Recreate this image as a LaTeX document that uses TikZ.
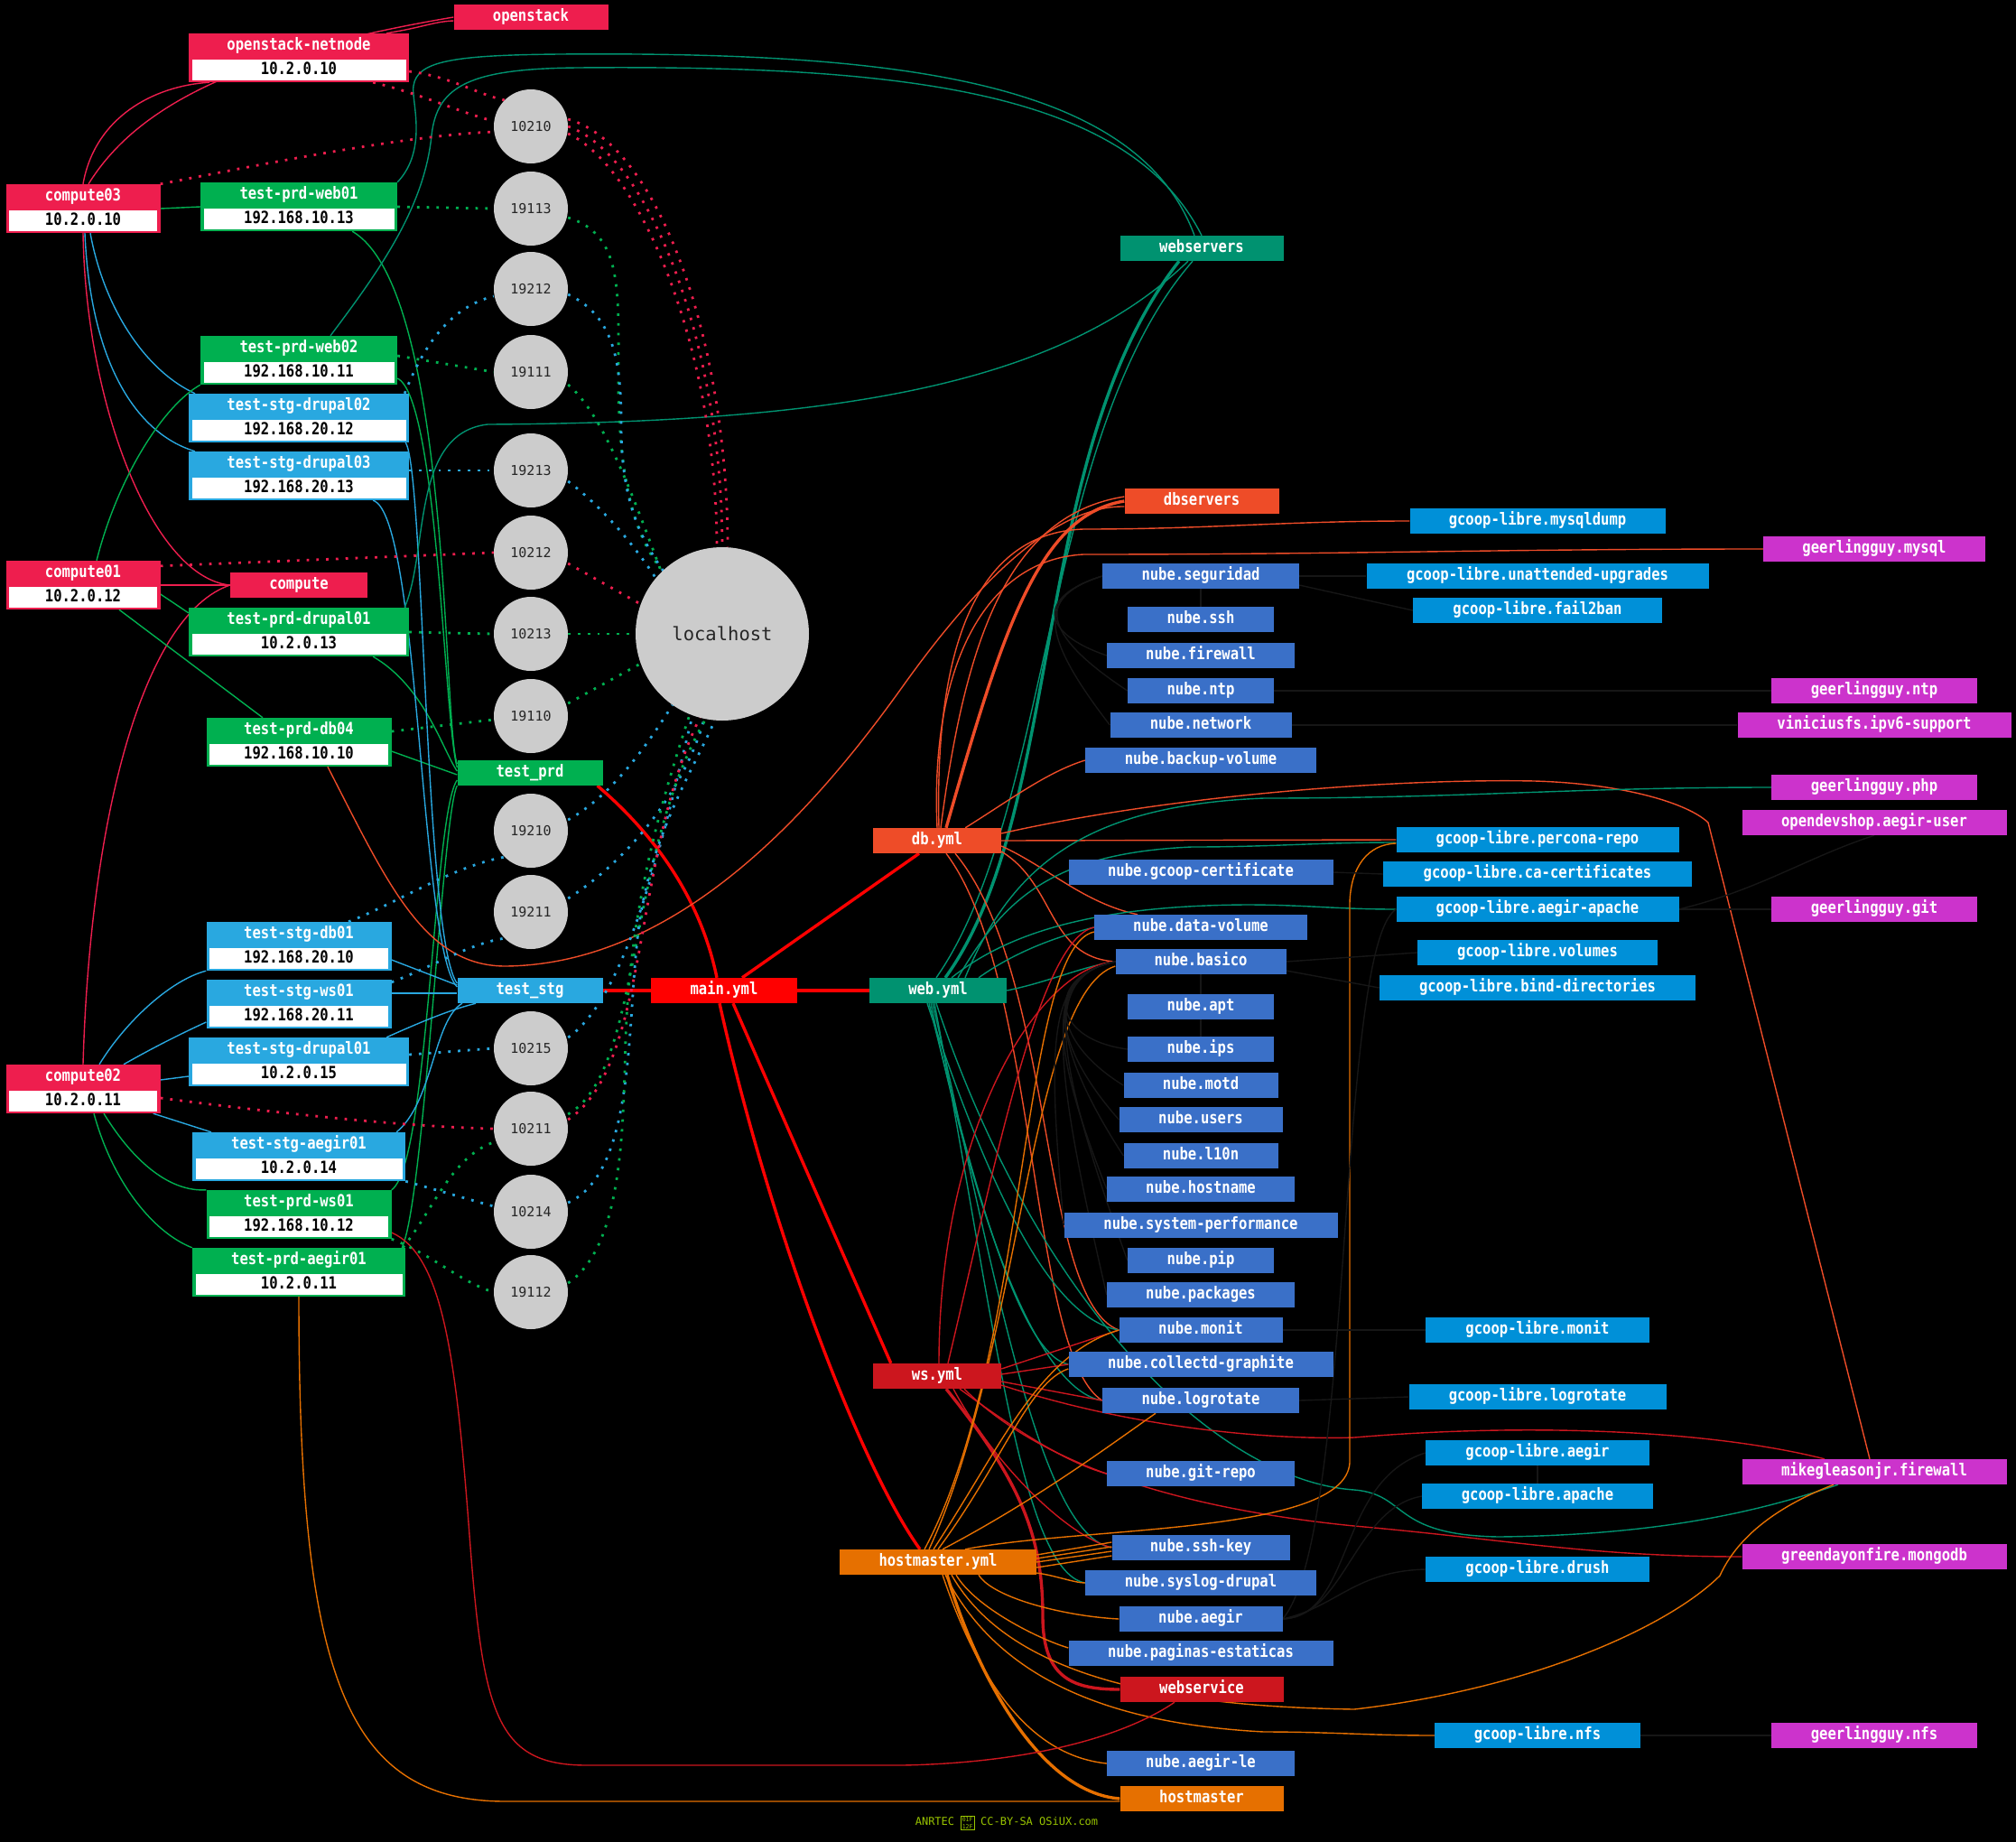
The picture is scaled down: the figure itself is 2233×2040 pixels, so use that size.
\documentclass[tikz,border=0pt]{standalone}
\usepackage{fontspec}
\usepackage{xcolor}
\usepackage{tikz}
\usetikzlibrary{positioning}

\newfontfamily\boxfont{DejaVu Sans Mono}[FakeStretch=0.84]
\newfontfamily\portfont{DejaVu Sans Mono}
\setlength{\fboxsep}{1pt}

\definecolor{osred}{HTML}{EE1E4E}
\definecolor{prdgreen}{HTML}{00B050}
\definecolor{stgblue}{HTML}{29A8E0}
\definecolor{mainred}{HTML}{FF0000}
\definecolor{webteal}{HTML}{009270}
\definecolor{dborange}{HTML}{EE4C28}
\definecolor{wsred}{HTML}{CC161E}
\definecolor{hmorange}{HTML}{E67000}
\definecolor{nubeblue}{HTML}{3A70C8}
\definecolor{gcoopblue}{HTML}{0090D8}
\definecolor{ggpurple}{HTML}{CC33CC}
\definecolor{portgray}{HTML}{CCCCCC}
\definecolor{darkline}{HTML}{161616}
\definecolor{footgreen}{HTML}{99C400}

\pgfdeclarelayer{bg}
\pgfdeclarelayer{edges}
\pgfsetlayers{bg,edges,main}

\tikzset{
  box/.style={rectangle, inner sep=0pt, minimum height=28, text=white,
    font={\boxfont\bfseries\fontsize{18.5}{18.5}\selectfont}, text height=12pt, text depth=3pt},
  hostbox/.style={rectangle, inner sep=0pt, minimum height=54},
  hosttitle/.style={inner sep=0pt, text=white,
    font={\boxfont\bfseries\fontsize{18.5}{18.5}\selectfont}, text height=12pt, text depth=3pt},
  hostip/.style={rectangle, fill=white, inner sep=0pt, minimum height=23, text=black,
    font={\boxfont\bfseries\fontsize{18.5}{18.5}\selectfont}, text height=12pt, text depth=3pt},
  port/.style={circle, fill=portgray, inner sep=0pt, minimum size=82, text=black!85,
    font={\portfont\fontsize{15}{15}\selectfont}},
  hub/.style={circle, fill=portgray, inner sep=0pt, minimum size=192, text=black!85,
    font={\portfont\fontsize{20.5}{20.5}\selectfont}},
  footer/.style={text=footgreen, inner sep=0pt, font={\portfont\fontsize{12}{12}\selectfont}},
  osln/.style={draw=osred, line width=1.4pt},
  prdln/.style={draw=prdgreen, line width=1.4pt},
  stgln/.style={draw=stgblue, line width=1.4pt},
  mainln/.style={draw=mainred, line width=3.4pt},
  webln/.style={draw=webteal, line width=1.4pt},
  dbln/.style={draw=dborange, line width=1.4pt},
  wsln/.style={draw=wsred, line width=1.4pt},
  hmln/.style={draw=hmorange, line width=1.4pt},
  darkln/.style={draw=darkline, line width=1.4pt},
  fat/.style={line width=3.4pt},
  portln/.style={line width=2.8pt, dash pattern=on 2.8pt off 8pt}
}

% host record: name, x, y, width, colour, hostname, ip
\newcommand{\hostnode}[7]{%
  \node[hostbox, fill=#5, minimum width=#4] (#1) at (#2,#3) {};
  \node[hosttitle] (#1t) at ([yshift=13]#1.center) {#6};
  \node[hostip, minimum width=#4-7] (#1ip) at ([yshift=-13.5]#1.center) {#7};
}

\begin{document}
\begin{tikzpicture}[x=1pt, y=1pt]
  \useasboundingbox (0,0) rectangle (2233,-2040);
  \begin{pgfonlayer}{bg}
    \fill[black] (0,0) rectangle (2233,-2040);
  \end{pgfonlayer}

  % inventory hosts
  \hostnode{netnode}{331}{-64}{244}{osred}{openstack-netnode}{10.2.0.10}
  \hostnode{cmp03}{92}{-231}{171}{osred}{compute03}{10.2.0.10}
  \hostnode{cmp01}{92}{-648}{171}{osred}{compute01}{10.2.0.12}
  \hostnode{cmp02}{92}{-1206}{171}{osred}{compute02}{10.2.0.11}
  \hostnode{prdweb01}{331}{-229}{218}{prdgreen}{test-prd-web01}{192.168.10.13}
  \hostnode{prdweb02}{331}{-399}{218}{prdgreen}{test-prd-web02}{192.168.10.11}
  \hostnode{stgdrp02}{331}{-463}{244}{stgblue}{test-stg-drupal02}{192.168.20.12}
  \hostnode{stgdrp03}{331}{-527}{244}{stgblue}{test-stg-drupal03}{192.168.20.13}
  \hostnode{prddrp01}{331}{-700}{244}{prdgreen}{test-prd-drupal01}{10.2.0.13}
  \hostnode{prddb04}{331}{-822}{205}{prdgreen}{test-prd-db04}{192.168.10.10}
  \hostnode{stgdb01}{331}{-1048}{205}{stgblue}{test-stg-db01}{192.168.20.10}
  \hostnode{stgws01}{331}{-1112}{205}{stgblue}{test-stg-ws01}{192.168.20.11}
  \hostnode{stgdrp01}{331}{-1176}{244}{stgblue}{test-stg-drupal01}{10.2.0.15}
  \hostnode{stgaegir01}{331}{-1281}{236}{stgblue}{test-stg-aegir01}{10.2.0.14}
  \hostnode{prdws01}{331}{-1345}{205}{prdgreen}{test-prd-ws01}{192.168.10.12}
  \hostnode{prdaegir01}{331}{-1409}{236}{prdgreen}{test-prd-aegir01}{10.2.0.11}

  % groups and playbooks
  \node[box, fill=osred, minimum width=171] (openstack) at (588,-19) {openstack};
  \node[box, fill=osred, minimum width=152] (compute) at (331,-648) {compute};
  \node[box, fill=prdgreen, minimum width=161] (testprd) at (587,-856) {test\_prd};
  \node[box, fill=stgblue, minimum width=161] (teststg) at (587,-1097) {test\_stg};
  \node[box, fill=mainred, minimum width=162] (mainyml) at (802,-1097) {main.yml};
  \node[box, fill=webteal, minimum width=152] (webyml) at (1039,-1097) {web.yml};
  \node[box, fill=dborange, minimum width=142] (dbyml) at (1038,-931) {db.yml};
  \node[box, fill=wsred, minimum width=142] (wsyml) at (1038,-1524) {ws.yml};
  \node[box, fill=hmorange, minimum width=218] (hmyml) at (1039,-1730) {hostmaster.yml};
  \node[box, fill=webteal, minimum width=181] (webservers) at (1331,-275) {webservers};
  \node[box, fill=dborange, minimum width=171] (dbservers) at (1331,-555) {dbservers};
  \node[box, fill=wsred, minimum width=181] (webservice) at (1331,-1871) {webservice};
  \node[box, fill=hmorange, minimum width=181] (hostmaster) at (1331,-1992) {hostmaster};

  % ssh tunnels
  \foreach \p/\y in {10210/140, 19113/231, 19212/320, 19111/412, 19213/521,
      10212/612, 10213/702, 19110/793, 19210/920, 19211/1010, 10215/1161,
      10211/1250, 10214/1342, 19112/1431}
    \node[port] (p\p) at (588,-\y) {\p};
  \node[hub] (localhost) at (800,-702) {localhost};

  % roles
  \foreach \n/\lbl/\y/\w in {nseguridad/nube.seguridad/638/218, nssh/nube.ssh/686/162,
      nfirewall/nube.firewall/726/208, nntp/nube.ntp/765/162,
      nnetwork/nube.network/803/201, nbackup/nube.backup-volume/842/256,
      ngcoopcert/nube.gcoop-certificate/966/293, ndatavol/nube.data-volume/1027/236,
      nbasico/nube.basico/1065/189, napt/nube.apt/1115/162, nips/nube.ips/1162/162,
      nmotd/nube.motd/1202/171, nusers/nube.users/1240/181, nlten/nube.l10n/1280/171,
      nhostname/nube.hostname/1317/208, nsysperf/nube.system-performance/1357/303,
      npip/nube.pip/1396/162, npackages/nube.packages/1434/208,
      nmonit/nube.monit/1473/181, ncollectd/nube.collectd-graphite/1511/293,
      nlogrotate/nube.logrotate/1551/218, ngitrepo/nube.git-repo/1632/208,
      nsshkey/nube.ssh-key/1714/197, nsyslog/nube.syslog-drupal/1753/256,
      naegir/nube.aegir/1793/181, npaginas/nube.paginas-estaticas/1831/293,
      naegirle/nube.aegir-le/1953/208}
    \node[box, fill=nubeblue, minimum width=\w] (\n) at (1330,-\y) {\lbl};

  \foreach \n/\lbl/\y/\w in {gmysqldump/gcoop-libre.mysqldump/577/283,
      gunattended/gcoop-libre.unattended-upgrades/638/379,
      gfailban/gcoop-libre.fail2ban/676/276, gpercona/gcoop-libre.percona-repo/930/313,
      gcacert/gcoop-libre.ca-certificates/968/342,
      gaegirapache/gcoop-libre.aegir-apache/1007/313,
      gvolumes/gcoop-libre.volumes/1055/266, gbind/gcoop-libre.bind-directories/1094/350,
      gmonit/gcoop-libre.monit/1473/248, glogrotate/gcoop-libre.logrotate/1547/285,
      gaegir/gcoop-libre.aegir/1609/248, gapache/gcoop-libre.apache/1657/256,
      gdrush/gcoop-libre.drush/1738/248, gnfs/gcoop-libre.nfs/1922/228}
    \node[box, fill=gcoopblue, minimum width=\w] (\n) at (1703,-\y) {\lbl};

  \foreach \n/\lbl/\y/\w in {ggmysql/geerlingguy.mysql/608/246,
      ggntp/geerlingguy.ntp/765/228, ggipv/viniciusfs.ipv6-support/803/303,
      ggphp/geerlingguy.php/872/228, ggaegiruser/opendevshop.aegir-user/911/293,
      gggit/geerlingguy.git/1007/228, ggfirewall/mikegleasonjr.firewall/1630/293,
      ggmongodb/greendayonfire.mongodb/1724/293, ggnfs/geerlingguy.nfs/1922/228}
    \node[box, fill=ggpurple, minimum width=\w] (\n) at (2076,-\y) {\lbl};

  \node[footer] (credit) at (1115,-2019) {ANRTEC \raisebox{-4pt}{\fbox{\fontsize{6.5}{6.5}\selectfont\shortstack{01F\\12F}}} CC-BY-SA OSiUX.com};

  \begin{pgfonlayer}{edges}
  % openstack / compute
  \draw[osln] (cmp03.north) .. controls (105,-130) and (170,-95) .. ([xshift=-99]netnode.south);
  \draw[osln] ([xshift=6]cmp03.north) .. controls (150,-120) and (260,-60) .. (openstack.west);
  \draw[osln] ([xshift=-25]netnode.north east) .. controls (470,-30) and (480,-24) .. ([yshift=-4]openstack.west);
  \draw[osln] (cmp03.south) .. controls (95,-450) and (170,-640) .. (compute.west);
  \draw[osln] (cmp01.east) -- (compute.west);
  \draw[osln] (cmp02.north) .. controls (100,-900) and (160,-680) .. (compute.west);

  % vms on compute nodes
  \draw[prdln] (cmp03.east) -- (prdweb01.west);
  \draw[stgln] ([xshift=8]cmp03.south) .. controls (115,-340) and (160,-410) .. ([xshift=-115]stgdrp02.north);
  \draw[stgln] ([xshift=2]cmp03.south) .. controls (100,-400) and (150,-480) .. ([xshift=-115]stgdrp03.north);
  \draw[prdln] ([xshift=15]cmp01.north) .. controls (130,-530) and (180,-450) .. (prdweb02.south west);
  \draw[prdln] ([yshift=-10]cmp01.east) -- ([yshift=-6]prddrp01.north west);
  \draw[prdln] ([xshift=40]cmp01.south) -- ([xshift=-40]prddb04.north);
  \draw[stgln] ([xshift=18]cmp02.north) .. controls (140,-1130) and (190,-1085) .. (stgdb01.south west);
  \draw[stgln] ([xshift=45]cmp02.north) .. controls (170,-1160) and (200,-1145) .. ([yshift=-20]stgws01.west);
  \draw[stgln] ([yshift=10]cmp02.east) -- ([yshift=-16]stgdrp01.west);
  \draw[stgln] ([xshift=-8]cmp02.south east) -- ([xshift=-97]stgaegir01.north);
  \draw[prdln] ([xshift=23]cmp02.south) .. controls (150,-1290) and (190,-1320) .. (prdws01.north west);
  \draw[prdln] ([xshift=12]cmp02.south) .. controls (125,-1310) and (170,-1365) .. (prdaegir01.north west);

  % test_prd / test_stg
  \draw[prdln] ([xshift=-50]prdweb01.south east) .. controls (500,-320) and (490,-800) .. ([yshift=10]testprd.west);
  \draw[prdln] ([yshift=-20]prdweb02.east) .. controls (485,-440) and (492,-800) .. ([yshift=6]testprd.west);
  \draw[prdln] ([xshift=-40]prddrp01.south east) .. controls (470,-760) and (490,-830) .. ([yshift=2]testprd.west);
  \draw[prdln] ([yshift=-10]prddb04.east) -- ([yshift=-2]testprd.west);
  \draw[prdln] (prdws01.north east) .. controls (475,-1290) and (480,-900) .. ([yshift=-8]testprd.west);
  \draw[prdln] ([xshift=-4]prdaegir01.north east) .. controls (470,-1330) and (490,-900) .. (testprd.south west);
  \draw[stgln] ([xshift=-4]stgdrp02.south east) .. controls (470,-520) and (470,-1040) .. ([yshift=8]teststg.west);
  \draw[stgln] ([xshift=-40]stgdrp03.south east) .. controls (465,-570) and (465,-1050) .. ([yshift=4]teststg.west);
  \draw[stgln] ([yshift=-15]stgdb01.east) -- ([yshift=6]teststg.west);
  \draw[stgln] ([yshift=12]stgws01.east) -- ([yshift=-3]teststg.west);
  \draw[stgln] ([xshift=-25]stgdrp01.north east) .. controls (470,-1130) and (500,-1118) .. ([xshift=-60]teststg.south);
  \draw[stgln] ([xshift=-10]stgaegir01.north east) .. controls (480,-1220) and (480,-1130) .. ([xshift=-75]teststg.south);

  % main.yml
  \draw[mainln] ([xshift=-6]testprd.south east) .. controls (720,-920) and (775,-990) .. ([xshift=-8]mainyml.north);
  \draw[mainln] (teststg.east) -- (mainyml.west);
  \draw[mainln] ([xshift=20]mainyml.north) -- ([xshift=-20]dbyml.south);
  \draw[mainln] (mainyml.east) -- (webyml.west);
  \draw[mainln] ([xshift=10]mainyml.south) -- ([xshift=20]wsyml.north west);
  \draw[mainln] ([xshift=-5]mainyml.south) .. controls (850,-1350) and (950,-1620) .. ([xshift=-20]hmyml.north);

  % webservers
  \draw[webln] (prdweb01.north east) .. controls (475,-165) and (455,-110) .. (458,-95) .. controls (462,-68) and (500,-61) .. (620,-60) .. controls (1000,-57) and (1260,-90) .. ([xshift=-8]webservers.north);
  \draw[webln] ([xshift=35]prdweb02.north) .. controls (420,-300) and (470,-230) .. (478,-150) .. controls (484,-95) and (520,-76) .. (640,-75) .. controls (1000,-72) and (1250,-100) .. (webservers.north);
  \draw[webln] ([xshift=-5]prddrp01.north east) .. controls (475,-610) and (455,-480) .. (540,-470) .. controls (950,-468) and (1180,-420) .. ([xshift=-15]webservers.south);
  \draw[webln, fat] ([xshift=8]webyml.north) .. controls (1180,-900) and (1140,-500) .. ([xshift=-25]webservers.south);
  \draw[webln] ([xshift=-2]webyml.north) .. controls (1165,-900) and (1155,-480) .. ([xshift=-10]webservers.south);

  % dbservers and db.yml
  \draw[dbln] ([xshift=32]prddb04.south) .. controls (430,-980) and (470,-1070) .. (560,-1070) .. controls (750,-1068) and (900,-900) .. (1000,-760) .. controls (1100,-620) and (1180,-560) .. ([yshift=-6]dbservers.west);
  \draw[dbln, fat] ([xshift=10]dbyml.north) .. controls (1110,-700) and (1150,-570) .. (dbservers.west);
  \draw[dbln] ([xshift=4]dbyml.north) .. controls (1070,-700) and (1120,-570) .. ([yshift=5]dbservers.west);
  \draw[dbln] ([xshift=2]dbyml.north) .. controls (1035,-720) and (1080,-590) .. (1200,-586) to[out=0,in=180] (gmysqldump.west);
  \draw[dbln] (dbyml.north) .. controls (1030,-740) and (1090,-620) .. (1200,-614) to[out=0,in=180] (ggmysql.west);
  \draw[dbln] ([xshift=-40]dbyml.north east) .. controls (1120,-885) and (1160,-855) .. (nbackup.west);
  \draw[dbln] (dbyml.east) -- (gpercona.west);
  \draw[dbln] ([yshift=8]dbyml.east) .. controls (1300,-880) and (1550,-862) .. (1700,-865) .. controls (1800,-868) and (1870,-890) .. (1892,-911) -- ([xshift=-5]ggfirewall.north);
  \draw[dbln] ([yshift=-6]dbyml.east) .. controls (1160,-960) and (1200,-1000) .. ([xshift=-70]ndatavol.north);
  \draw[dbln] ([yshift=-12]dbyml.east) .. controls (1170,-980) and (1160,-1060) .. (nbasico.west);
  \draw[dbln] ([xshift=10]dbyml.south) .. controls (1150,-1080) and (1140,-1500) .. (nlogrotate.west);
  \draw[dbln] ([xshift=20]dbyml.south) .. controls (1170,-1080) and (1150,-1440) .. (nmonit.west);

  % web.yml
  \draw[webln] ([xshift=30]webyml.north) .. controls (1120,-960) and (1200,-892) .. (1400,-884) to[out=0,in=180] (ggphp.west);
  \draw[webln] ([xshift=22]webyml.north) .. controls (1110,-1000) and (1160,-945) .. (1320,-938) to[out=0,in=180] ([yshift=-3]gpercona.west);
  \draw[webln] ([xshift=15]webyml.north) .. controls (1120,-1030) and (1220,-1003) .. (1380,-1002) to[out=0,in=180] (gaegirapache.west);
  \draw[webln] ([xshift=45]webyml.north) .. controls (1130,-1050) and (1180,-1035) .. (ndatavol.west);
  \draw[webln] (webyml.east) .. controls (1160,-1088) and (1200,-1070) .. (nbasico.west);
  \draw[webln] ([xshift=-12]webyml.south) .. controls (1090,-1300) and (1160,-1460) .. (nmonit.west);
  \draw[webln] ([xshift=-10]webyml.south) .. controls (1080,-1320) and (1130,-1500) .. (ncollectd.west);
  \draw[webln] ([xshift=-8]webyml.south) .. controls (1080,-1350) and (1150,-1540) .. (nlogrotate.west);
  \draw[webln] ([xshift=-6]webyml.south) .. controls (1100,-1400) and (1150,-1700) .. (nsshkey.west);
  \draw[webln] ([xshift=-4]webyml.south) .. controls (1100,-1450) and (1130,-1740) .. (nsyslog.west);
  \draw[webln] ([xshift=-2]webyml.south) .. controls (1150,-1450) and (1350,-1640) .. (1500,-1650) .. controls (1560,-1655) and (1540,-1700) .. (1660,-1702) .. controls (1850,-1700) and (1960,-1670) .. ([xshift=-40]ggfirewall.south);

  % ws.yml
  \draw[wsln, fat] ([xshift=10]wsyml.south) .. controls (1130,-1640) and (1155,-1700) .. (1155,-1790) .. controls (1155,-1860) and (1190,-1871) .. (webservice.west);
  \draw[wsln] ([xshift=2]wsyml.north) .. controls (1040,-1250) and (1150,-1070) .. (nbasico.west);
  \draw[wsln] ([xshift=12]wsyml.north) .. controls (1100,-1300) and (1150,-1040) .. (ndatavol.west);
  \draw[wsln] ([yshift=8]wsyml.east) -- (nmonit.west);
  \draw[wsln] ([yshift=2]wsyml.east) -- (ncollectd.west);
  \draw[wsln] ([yshift=-6]wsyml.east) -- (nlogrotate.west);
  \draw[wsln] ([xshift=25]wsyml.south) .. controls (1120,-1580) and (1180,-1620) .. (ngitrepo.west);
  \draw[wsln] ([xshift=18]wsyml.south) .. controls (1100,-1620) and (1180,-1700) .. (nsshkey.west);
  \draw[wsln] ([yshift=-10]wsyml.east) .. controls (1250,-1580) and (1400,-1595) .. (1500,-1592) .. controls (1700,-1575) and (1900,-1585) .. ([xshift=-55]ggfirewall.north);
  \draw[wsln] ([xshift=30]wsyml.south) .. controls (1150,-1620) and (1300,-1670) .. (1500,-1690) to[out=-5,in=180] (ggmongodb.west);

  % hostmaster.yml
  \draw[hmln, fat] ([xshift=10]hmyml.south) .. controls (1080,-1850) and (1150,-1985) .. (hostmaster.west);
  \draw[hmln] ([yshift=8]hmyml.east) -- ([yshift=6]nsshkey.west);
  \draw[hmln] ([yshift=4]hmyml.east) -- ([yshift=1]nsshkey.west);
  \draw[hmln] (hmyml.east) -- ([yshift=-4]nsshkey.west);
  \draw[hmln] ([yshift=-6]hmyml.east) -- ([yshift=-9]nsshkey.west);
  \draw[hmln] ([yshift=-12]hmyml.east) .. controls (1170,-1745) and (1190,-1753) .. (nsyslog.west);
  \draw[hmln] ([xshift=45]hmyml.south) .. controls (1100,-1770) and (1180,-1790) .. (naegir.west);
  \draw[hmln] ([xshift=20]hmyml.south) .. controls (1080,-1780) and (1150,-1815) .. ([yshift=6]npaginas.west);
  \draw[hmln] ([xshift=5]hmyml.south) .. controls (1090,-1880) and (1150,-1945) .. (naegirle.west);
  \draw[hmln] ([xshift=8]hmyml.south) .. controls (1110,-1870) and (1250,-1910) .. (1400,-1918) to[out=0,in=180] (gnfs.west);
  \draw[hmln] ([xshift=15]hmyml.south) .. controls (1120,-1860) and (1300,-1890) .. (1500,-1893) .. controls (1700,-1870) and (1850,-1800) .. (1905,-1745) .. controls (1930,-1690) and (1990,-1660) .. ([xshift=-45]ggfirewall.south);
  \draw[hmln] ([xshift=30]hmyml.north) .. controls (1200,-1690) and (1490,-1700) .. (1495,-1620) -- (1495,-1000) .. controls (1496,-960) and (1515,-935) .. ([yshift=-4]gpercona.west);
  \draw[hmln] ([xshift=-5]hmyml.north) .. controls (1110,-1600) and (1150,-1500) .. (nmonit.west);
  \draw[hmln] (hmyml.north) .. controls (1110,-1620) and (1140,-1530) .. ([yshift=-5]ncollectd.west);
  \draw[hmln] ([xshift=5]hmyml.north) .. controls (1150,-1660) and (1230,-1600) .. ([xshift=-50]nlogrotate.south);
  \draw[hmln] ([xshift=-10]hmyml.north) .. controls (1130,-1500) and (1140,-1100) .. ([yshift=-5]nbasico.west);
  \draw[hmln] ([xshift=-15]hmyml.north) .. controls (1140,-1500) and (1130,-1050) .. ([yshift=-5]ndatavol.west);

  % hosts straight to group nodes
  \draw[hmln] (prdaegir01.south) .. controls (331,-1850) and (380,-1995) .. (560,-1995) -- ([yshift=-3]hostmaster.west);
  \draw[wsln] ([yshift=-20]prdws01.east) .. controls (490,-1390) and (505,-1500) .. (520,-1700) .. controls (535,-1900) and (550,-1955) .. (650,-1955) -- (1000,-1955) .. controls (1150,-1952) and (1250,-1920) .. ([xshift=-30]webservice.south);

  % tunnels to localhost
  \draw[osln, portln] ([yshift=-15]netnode.east) .. controls (500,-85) and (530,-105) .. (p10210.north west);
  \draw[osln, portln] ([xshift=-40]netnode.south east) .. controls (470,-105) and (510,-125) .. ([yshift=6]p10210.west);
  \draw[osln, portln] (cmp03.north east) .. controls (300,-180) and (450,-150) .. ([yshift=-6]p10210.west);
  \draw[osln, portln] ([yshift=8]p10210.east) .. controls (730,-160) and (806,-380) .. ([xshift=6]localhost.north);
  \draw[osln, portln] (p10210.east) .. controls (720,-172) and (800,-385) .. (localhost.north);
  \draw[osln, portln] ([yshift=-8]p10210.east) .. controls (710,-185) and (794,-390) .. ([xshift=-6]localhost.north);
  \draw[prdln, portln] (prdweb01.east) -- (p19113.west);
  \draw[prdln, portln] ([yshift=-10]p19113.east) .. controls (690,-260) and (685,-320) .. (685,-420) .. controls (685,-520) and (700,-590) .. ([yshift=4]localhost.north west);
  \draw[stgln, portln] ([xshift=-5]stgdrp02.north east) .. controls (470,-380) and (500,-340) .. ([yshift=-8]p19212.west);
  \draw[stgln, portln] ([yshift=-6]p19212.east) .. controls (680,-350) and (688,-400) .. (688,-470) .. controls (688,-560) and (712,-600) .. ([xshift=6,yshift=-3]localhost.north west);
  \draw[prdln, portln] ([yshift=5]prdweb02.east) -- (p19111.west);
  \draw[prdln, portln] ([yshift=-14]p19111.east) .. controls (670,-460) and (705,-560) .. ([xshift=3,yshift=-6]localhost.north west);
  \draw[stgln, portln] ([yshift=6]stgdrp03.east) -- (p19213.west);
  \draw[stgln, portln] ([yshift=-12]p19213.east) .. controls (665,-560) and (700,-600) .. (localhost.140);
  \draw[osln, portln] ([yshift=-6]cmp01.north east) -- (p10212.west);
  \draw[osln, portln] ([yshift=-12]p10212.east) -- (localhost.160);
  \draw[prdln, portln] (prddrp01.east) -- (p10213.west);
  \draw[prdln, portln] (p10213.east) -- (localhost.west);
  \draw[prdln, portln] ([yshift=12]prddb04.east) -- ([yshift=-4]p19110.west);
  \draw[prdln, portln] ([yshift=14]p19110.east) -- (localhost.200);
  \draw[stgln, portln] ([xshift=55]stgdb01.north) .. controls (440,-1000) and (500,-960) .. (p19210.south west);
  \draw[stgln, portln] ([yshift=12]p19210.east) .. controls (680,-880) and (720,-820) .. (localhost.235);
  \draw[stgln, portln] ([yshift=-3]stgws01.north east) .. controls (480,-1070) and (520,-1045) .. (p19211.south west);
  \draw[stgln, portln] ([yshift=15]p19211.east) .. controls (700,-950) and (760,-870) .. (localhost.258);
  \draw[stgln, portln] ([yshift=8]stgdrp01.east) -- (p10215.west);
  \draw[stgln, portln] ([yshift=12]p10215.east) .. controls (700,-1100) and (740,-900) .. (localhost.250);
  \draw[osln, portln] ([yshift=-10]cmp02.east) .. controls (300,-1232) and (450,-1248) .. (p10211.west);
  \draw[osln, portln] ([yshift=10]p10211.east) .. controls (720,-1180) and (700,-950) .. (localhost.255);
  \draw[prdln, portln] ([xshift=-3]prdaegir01.north east) .. controls (480,-1340) and (500,-1280) .. (p10211.200);
  \draw[prdln, portln] ([yshift=16]p10211.east) .. controls (712,-1186) and (692,-950) .. (localhost.259);
  \draw[stgln, portln] (stgaegir01.south east) -- ([yshift=6]p10214.west);
  \draw[stgln, portln] ([yshift=10]p10214.east) .. controls (700,-1300) and (695,-1150) .. (705,-1050) .. controls (715,-930) and (770,-850) .. (localhost.265);
  \draw[prdln, portln] (prdws01.south east) .. controls (480,-1390) and (510,-1420) .. (p19112.west);
  \draw[prdln, portln] ([yshift=10]p19112.east) .. controls (690,-1380) and (690,-1250) .. (693,-1150) .. controls (698,-1000) and (735,-880) .. (localhost.248);

  % role dependencies
  \foreach \a/\b in {nseguridad/gunattended, nntp/ggntp, nnetwork/ggipv, ngcoopcert/gcacert,
      gaegirapache/gggit, nbasico/gvolumes, nmonit/gmonit, nlogrotate/glogrotate, gnfs/ggnfs}
    \draw[darkln] (\a.east) -- (\b.west);
  \draw[darkln] ([yshift=-10]nseguridad.east) -- (gfailban.west);
  \draw[darkln] ([yshift=-10]nbasico.east) -- (gbind.west);
  \draw[darkln] (nseguridad.south) -- (nssh.north);
  \draw[darkln] (nbasico.south) -- (napt.north);
  \draw[darkln] (napt.south) -- (nips.north);
  \draw[darkln] (gaegir.south) -- (gapache.north);
  \draw[darkln] (gaegirapache.east) .. controls (1950,-985) and (2000,-950) .. (ggaegiruser.south);
  \foreach \t in {nfirewall, nntp, nnetwork}
    \draw[darkln] (nseguridad.west) .. controls (1150,-660) and (1150,-700) .. (\t.west);
  \foreach \t in {nips, nmotd, nusers, nlten, nhostname, nsysperf, npip, npackages}
    \draw[darkln] (nbasico.west) .. controls (1160,-1080) and (1160,-1150) .. (\t.west);
  \draw[darkln] (naegir.east) .. controls (1500,-1790) and (1480,-1640) .. (gaegir.west);
  \draw[darkln] (naegir.east) .. controls (1490,-1790) and (1500,-1670) .. (gapache.west);
  \draw[darkln] (naegir.east) .. controls (1480,-1780) and (1500,-1740) .. (gdrush.west);
  \draw[darkln] (naegir.east) .. controls (1500,-1700) and (1480,-1050) .. (gaegirapache.west);
  \end{pgfonlayer}
\end{tikzpicture}
\end{document}
